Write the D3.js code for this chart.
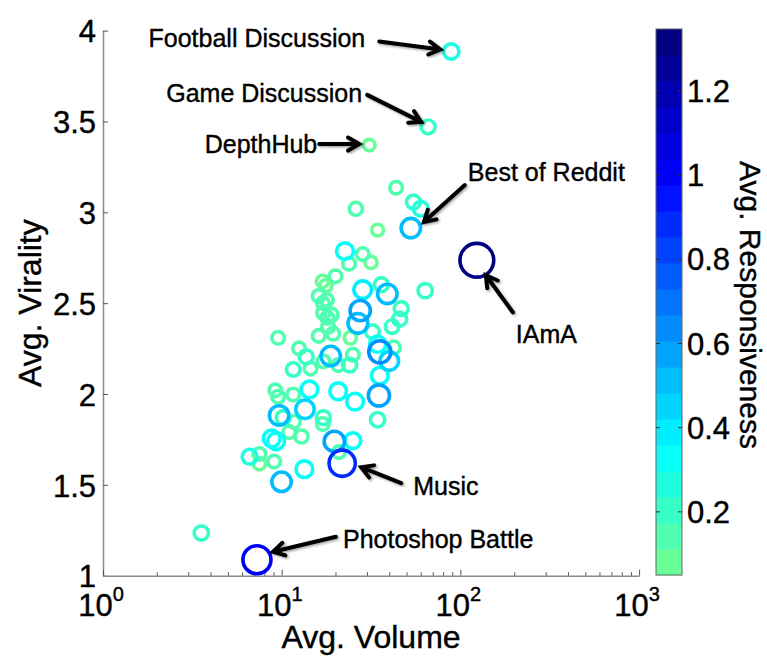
<!DOCTYPE html>
<html>
<head>
<meta charset="utf-8">
<script src="https://cdn.jsdelivr.net/npm/d3@7"></script>
<style>
  html, body { margin: 0; padding: 0; background: #fff; }
  svg { display: block; font-family: "Liberation Sans", Arial, sans-serif; }
  svg text { stroke: #000; stroke-width: 0.4px; }
</style>
</head>
<body>
<svg id="chart" width="767" height="657"></svg>
<script>
// Per-community averages: volume (x, log), virality (y), responsiveness (colour & size).
// The first seven entries are the called-out communities.
const volume = [
  88.9, 66, 30.9, 52.8, 123.6, 21.8, 7.27,
  43.7, 26, 54.6, 60, 34.4, 22.6, 28.4, 23.8, 31.6, 63.5, 20, 17.7, 16.9,
  28.4, 36.1, 39, 16.1, 17, 27.5, 26.7, 17.1, 18, 46.6, 45.7, 41.5, 32.2,
  19.4, 16.1, 9.55, 24.2, 34.4, 42.3, 35.4, 18.8, 40, 25, 24, 12.5, 13.7,
  11.6, 14.5, 17.1, 20.7, 35.4, 9.2, 9.55, 11.6, 14.3, 20.7, 35, 25.7,
  9.67, 10.2, 13.5, 11.7, 17.1, 17, 34.4, 12.9, 11.0, 8.8, 9.3, 19.7, 25,
  20.9, 6.61, 7.5, 7.5, 9.07, 13.4, 9.98, 3.55,
  17.9, 19, 18.2
];
const virality = [
  3.885, 3.47, 3.37, 2.913, 2.736, 1.619, 1.088,
  3.135, 3.019, 3.056, 3.02, 2.902, 2.786, 2.77, 2.717, 2.724, 2.569, 2.648, 2.597, 2.62,
  2.574, 2.602, 2.551, 2.539, 2.50, 2.459, 2.389, 2.447, 2.42, 2.47, 2.412, 2.371, 2.343,
  2.332, 2.32, 2.309, 2.309, 2.274, 2.255, 2.232, 2.209, 2.182, 2.216, 2.16, 2.251, 2.205,
  2.135, 2.14, 2.18, 2.159, 2.101, 2.02, 1.985, 1.997, 2.025, 2.015, 1.992, 1.958,
  1.882, 1.87, 1.916, 1.847, 1.87, 1.835, 1.859, 1.766, 1.79, 1.755, 1.74, 1.739, 1.743,
  1.68, 1.655, 1.67, 1.616, 1.628, 1.586, 1.517, 1.235,
  2.517, 2.435, 2.37
];
const responsiveness = [
  0.27, 0.19, 0.06, 0.5, 1.3, 0.88, 0.98,
  0.12, 0.15, 0.2, 0.24, 0.08, 0.35, 0.12, 0.12, 0.1, 0.22, 0.12, 0.1, 0.1,
  0.4, 0.2, 0.5, 0.12, 0.12, 0.55, 0.52, 0.15, 0.13, 0.2, 0.2, 0.18, 0.18,
  0.13, 0.12, 0.12, 0.1, 0.32, 0.15, 0.65, 0.5, 0.45, 0.12, 0.2, 0.12, 0.2,
  0.18, 0.12, 0.12, 0.12, 0.35, 0.12, 0.12, 0.13, 0.35, 0.35, 0.6, 0.35,
  0.5, 0.2, 0.45, 0.12, 0.2, 0.12, 0.22, 0.15, 0.12, 0.35, 0.35, 0.55, 0.3,
  0.12, 0.25, 0.12, 0.1, 0.12, 0.35, 0.5, 0.22,
  0.12, 0.15, 0.13
];
const calloutNames = ["Football Discussion", "Game Discussion", "DepthHub",
  "Best of Reddit", "IAmA", "Music", "Photoshop Battle"];
const yTicks = [1, 1.5, 2, 2.5, 3, 3.5, 4];
const xMajorTicks = [1, 10, 100, 1000];
const cTicks = [0.2, 0.4, 0.6, 0.8, 1, 1.2];
const cTickLabels = ["0.2", "0.4", "0.6", "0.8", "1", "1.2"];

// Callout placement relative to each point: label anchor, arrow tail and arrow tip (px).
const calloutLayout = [
  { lx: -86, ly: -4,  anchor: "end",   tail: [-72, -10], tip: [-11, -2] },
  { lx: -66, ly: -25, anchor: "end",   tail: [-61, -32], tip: [-7, -5] },
  { lx: -52, ly: 7.5, anchor: "end",   tail: [-50, -1],  tip: [-10, -1] },
  { lx: 57,  ly: -47, anchor: "start", tail: [54, -43],  tip: [13, -6] },
  { lx: 39,  ly: 83,  anchor: "start", tail: [36, 52],   tip: [9, 15] },
  { lx: 71,  ly: 32,  anchor: "start", tail: [59, 20],   tip: [19, 4] },
  { lx: 86,  ly: -12, anchor: "start", tail: [79, -23],  tip: [16, -8] }
];

const svg = d3.select("#chart");
const plot = { left: 103, right: 639.1, top: 30.6, bottom: 575.7 };

const x = d3.scaleLog().domain([1, 1000]).range([plot.left, plot.right]);
const y = d3.scaleLinear().domain([1, 4]).range([plot.bottom, plot.top]);

// Colour map: the low end of "jet", reversed, quantised into bands.
const cMin = 0.05, cMax = 1.347, nBands = 21;
function jet(t) {
  const f = v => Math.max(0, Math.min(1, v));
  return d3.rgb(
    255 * f(Math.min(4 * t - 1.5, -4 * t + 4.5)),
    255 * f(Math.min(4 * t - 0.5, -4 * t + 3.5)),
    255 * f(Math.min(4 * t + 0.5, -4 * t + 2.5))
  ).formatHex();
}
const bandColors = d3.range(nBands).map(k => jet(0.477 * (nBands - 1 - k) / (nBands - 1)));
const color = d3.scaleQuantize().domain([cMin, cMax]).range(bandColors);
const radius = d3.scaleLinear().domain([0, 1.3]).range([5.2, 16.9]);

const points = volume.map((v, i) => ({
  vol: v, vir: virality[i], resp: responsiveness[i], i
}));

// Axes
const axisGrey = "#8c8c8c";
const yAxis = svg.append("g")
  .attr("transform", `translate(${plot.left},0)`)
  .call(d3.axisLeft(y).tickValues(yTicks).tickSize(-5).tickSizeOuter(0).tickPadding(7)
    .tickFormat(d3.format("~g")));
yAxis.select(".domain").attr("stroke", axisGrey).attr("stroke-width", 1.5);
yAxis.selectAll(".tick line").attr("stroke", "#555");
yAxis.selectAll(".tick text").attr("font-size", 31).attr("fill", "#000")
  .attr("font-family", "Liberation Sans, Arial, sans-serif").attr("dy", "0.36em");

const xAllTicks = x.ticks();
const xAxis = svg.append("g")
  .attr("transform", `translate(0,${plot.bottom})`)
  .call(d3.axisBottom(x).tickValues(xAllTicks).tickSizeOuter(0).tickFormat(""));
xAxis.select(".domain").attr("stroke", axisGrey).attr("stroke-width", 1.5);
xAxis.selectAll(".tick line")
  .attr("stroke", "#555")
  .attr("y2", d => xMajorTicks.includes(d) ? -6 : -3.5);
xAxis.selectAll(".tick text").remove();

const xLabels = svg.append("g").attr("font-size", 31).attr("fill", "#000");
xMajorTicks.forEach(d => {
  const t = xLabels.append("text")
    .attr("x", x(d) - 2).attr("y", plot.bottom + 40)
    .attr("text-anchor", "middle");
  t.append("tspan").text("10");
  t.append("tspan").attr("font-size", 20).attr("dy", -15).text(Math.round(Math.log10(d)));
});

// Axis titles
svg.append("text")
  .attr("x", (plot.left + plot.right) / 2).attr("y", 648)
  .attr("text-anchor", "middle").attr("font-size", 32).text("Avg. Volume");
svg.append("text")
  .attr("transform", `translate(41,${(plot.top + plot.bottom) / 2}) rotate(-90)`)
  .attr("text-anchor", "middle").attr("font-size", 32).text("Avg. Virality");

// Scatter of hollow circles, lower responsiveness drawn first
svg.append("g")
  .selectAll("circle")
  .data(points.slice().sort((a, b) => a.resp - b.resp))
  .join("circle")
  .attr("cx", d => x(d.vol))
  .attr("cy", d => y(d.vir))
  .attr("r", d => radius(d.resp))
  .attr("fill", "none")
  .attr("stroke", d => color(d.resp))
  .attr("stroke-width", 3.6);

// Callouts with arrows
const defs = svg.append("defs");
const shadow = defs.append("filter").attr("id", "arrowShadow")
  .attr("x", "-20%").attr("y", "-20%").attr("width", "140%").attr("height", "140%");
shadow.append("feDropShadow").attr("dx", 1.5).attr("dy", 1.5)
  .attr("stdDeviation", 1.2).attr("flood-color", "#000").attr("flood-opacity", 0.35);

const callouts = svg.append("g");
calloutNames.forEach((name, i) => {
  const p = points[i];
  const L = calloutLayout[i];
  const px = x(p.vol), py = y(p.vir);
  callouts.append("text")
    .attr("x", px + L.lx).attr("y", py + L.ly)
    .attr("text-anchor", L.anchor)
    .attr("font-size", 25).attr("fill", "#000")
    .text(name);
  const x1 = px + L.tail[0], y1 = py + L.tail[1];
  const x2 = px + L.tip[0], y2 = py + L.tip[1];
  const ang = Math.atan2(y2 - y1, x2 - x1);
  const len = 13, spread = Math.PI / 6;
  const hx1 = x2 - len * Math.cos(ang - spread), hy1 = y2 - len * Math.sin(ang - spread);
  const hx2 = x2 - len * Math.cos(ang + spread), hy2 = y2 - len * Math.sin(ang + spread);
  callouts.append("path")
    .attr("d", `M${x1},${y1}L${x2},${y2}M${hx1},${hy1}L${x2},${y2}L${hx2},${hy2}`)
    .attr("fill", "none").attr("stroke", "#000").attr("stroke-width", 4)
    .attr("stroke-linecap", "round").attr("stroke-linejoin", "miter")
    .attr("filter", "url(#arrowShadow)");
});

// Colour bar
const cb = { left: 656, right: 682, top: 29, bottom: 575 };
const cy = d3.scaleLinear().domain([cMin, cMax]).range([cb.bottom, cb.top]);
const bandW = (cMax - cMin) / nBands;
const cbar = svg.append("g");
cbar.selectAll("rect.band")
  .data(bandColors)
  .join("rect")
  .attr("class", "band")
  .attr("x", cb.left)
  .attr("width", cb.right - cb.left)
  .attr("y", (c, k) => cy(cMin + (k + 1) * bandW))
  .attr("height", (c, k) => cy(cMin + k * bandW) - cy(cMin + (k + 1) * bandW) + 0.5)
  .attr("fill", c => c);
cbar.append("rect")
  .attr("x", cb.left).attr("y", cb.top)
  .attr("width", cb.right - cb.left).attr("height", cb.bottom - cb.top)
  .attr("fill", "none").attr("stroke", "#666").attr("stroke-width", 1);
cTicks.forEach((t, i) => {
  const ty = cy(t);
  cbar.append("line").attr("x1", cb.left).attr("x2", cb.left + 4)
    .attr("y1", ty).attr("y2", ty).attr("stroke", "#333");
  cbar.append("line").attr("x1", cb.right - 4).attr("x2", cb.right)
    .attr("y1", ty).attr("y2", ty).attr("stroke", "#333");
  cbar.append("text").attr("x", cb.right + 5).attr("y", ty).attr("dy", "0.36em")
    .attr("font-size", 31).attr("fill", "#000").text(cTickLabels[i]);
});
svg.append("text")
  .attr("transform", `translate(740,${(cb.top + cb.bottom) / 2 + 3}) rotate(90)`)
  .attr("text-anchor", "middle").attr("font-size", 30).text("Avg. Responsiveness");
</script>
</body>
</html>
